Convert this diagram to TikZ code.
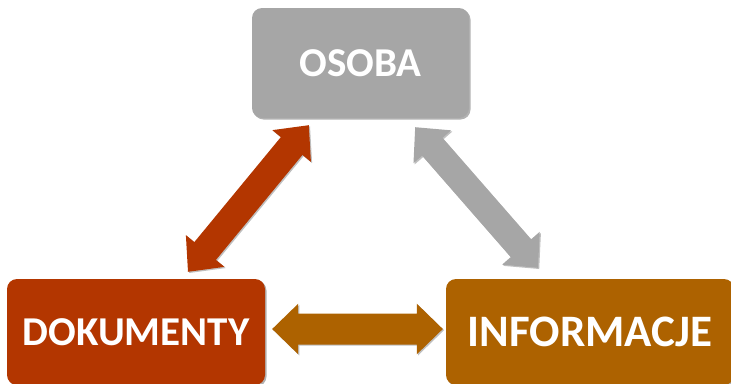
\documentclass[tikz,border=0pt]{standalone}
\usepackage{fontspec}
\setmainfont{Carlito}
\usetikzlibrary{calc,shadows}
\definecolor{cgray}{HTML}{A6A6A6}
\definecolor{cred}{HTML}{B33600}
\definecolor{corange}{HTML}{AD6200}
% #1 tip A, #2 tip B, #3 shaft half width, #4 head half width, #5 head length, #6 colour
\newcommand\blockarrow[6]{%
  \coordinate (ba-ah) at ($(#1)!#5!(#2)$);
  \coordinate (ba-bh) at ($(#2)!#5!(#1)$);
  \fill[#6, arrowshadow] (#1) -- ($(ba-ah)!#4!90:(#2)$) -- ($(ba-ah)!#3!90:(#2)$)
    -- ($(ba-bh)!#3!-90:(#1)$) -- ($(ba-bh)!#4!-90:(#1)$) -- (#2)
    -- ($(ba-bh)!#4!90:(#1)$) -- ($(ba-bh)!#3!90:(#1)$)
    -- ($(ba-ah)!#3!-90:(#2)$) -- ($(ba-ah)!#4!-90:(#2)$) -- cycle;}
\begin{document}
\begin{tikzpicture}[x=1pt,y=-1pt,
  box/.style={rounded corners=10pt, inner sep=0pt, text=white,
    drop shadow={shadow xshift=1.5pt, shadow yshift=-1.5pt, opacity=0.3, fill=black}},
  arrowshadow/.style={drop shadow={shadow xshift=1.2pt, shadow yshift=-1.2pt, opacity=0.25, fill=black}}]
\useasboundingbox (0,0) rectangle (731,383);
\node[box, fill=cgray, minimum width=217pt, minimum height=110pt,
  font=\bfseries\fontsize{41}{41}\selectfont] (osoba) at (360.5,63) {OSOBA};
\node[box, fill=cred, minimum width=258pt, minimum height=106pt,
  font=\bfseries\fontsize{41}{41}\selectfont] (dok) at (136,332) {DOKUMENTY};
\node[box, fill=corange, minimum width=288pt, minimum height=106pt,
  font=\bfseries\fontsize{45}{45}\selectfont] (info) at (590,332) {INFORMACJE};
\coordinate (r1) at ($(osoba.south west)+(57,7)$);
\coordinate (r2) at ($(dok.north)+(52,-7)$);
\coordinate (g1) at ($(osoba.south east)+(-54,9)$);
\coordinate (g2) at ($(info.north)+(-52,-11)$);
\coordinate (o1) at ($(dok.east)+(7,-3)$);
\coordinate (o2) at ($(info.west)+(-3,-3)$);
\blockarrow{r2}{r1}{14pt}{25pt}{27pt}{cred}
\blockarrow{g1}{g2}{13.5pt}{25pt}{26pt}{cgray}
\blockarrow{o1}{o2}{15.5pt}{25.3pt}{26pt}{corange}
\end{tikzpicture}
\end{document}
